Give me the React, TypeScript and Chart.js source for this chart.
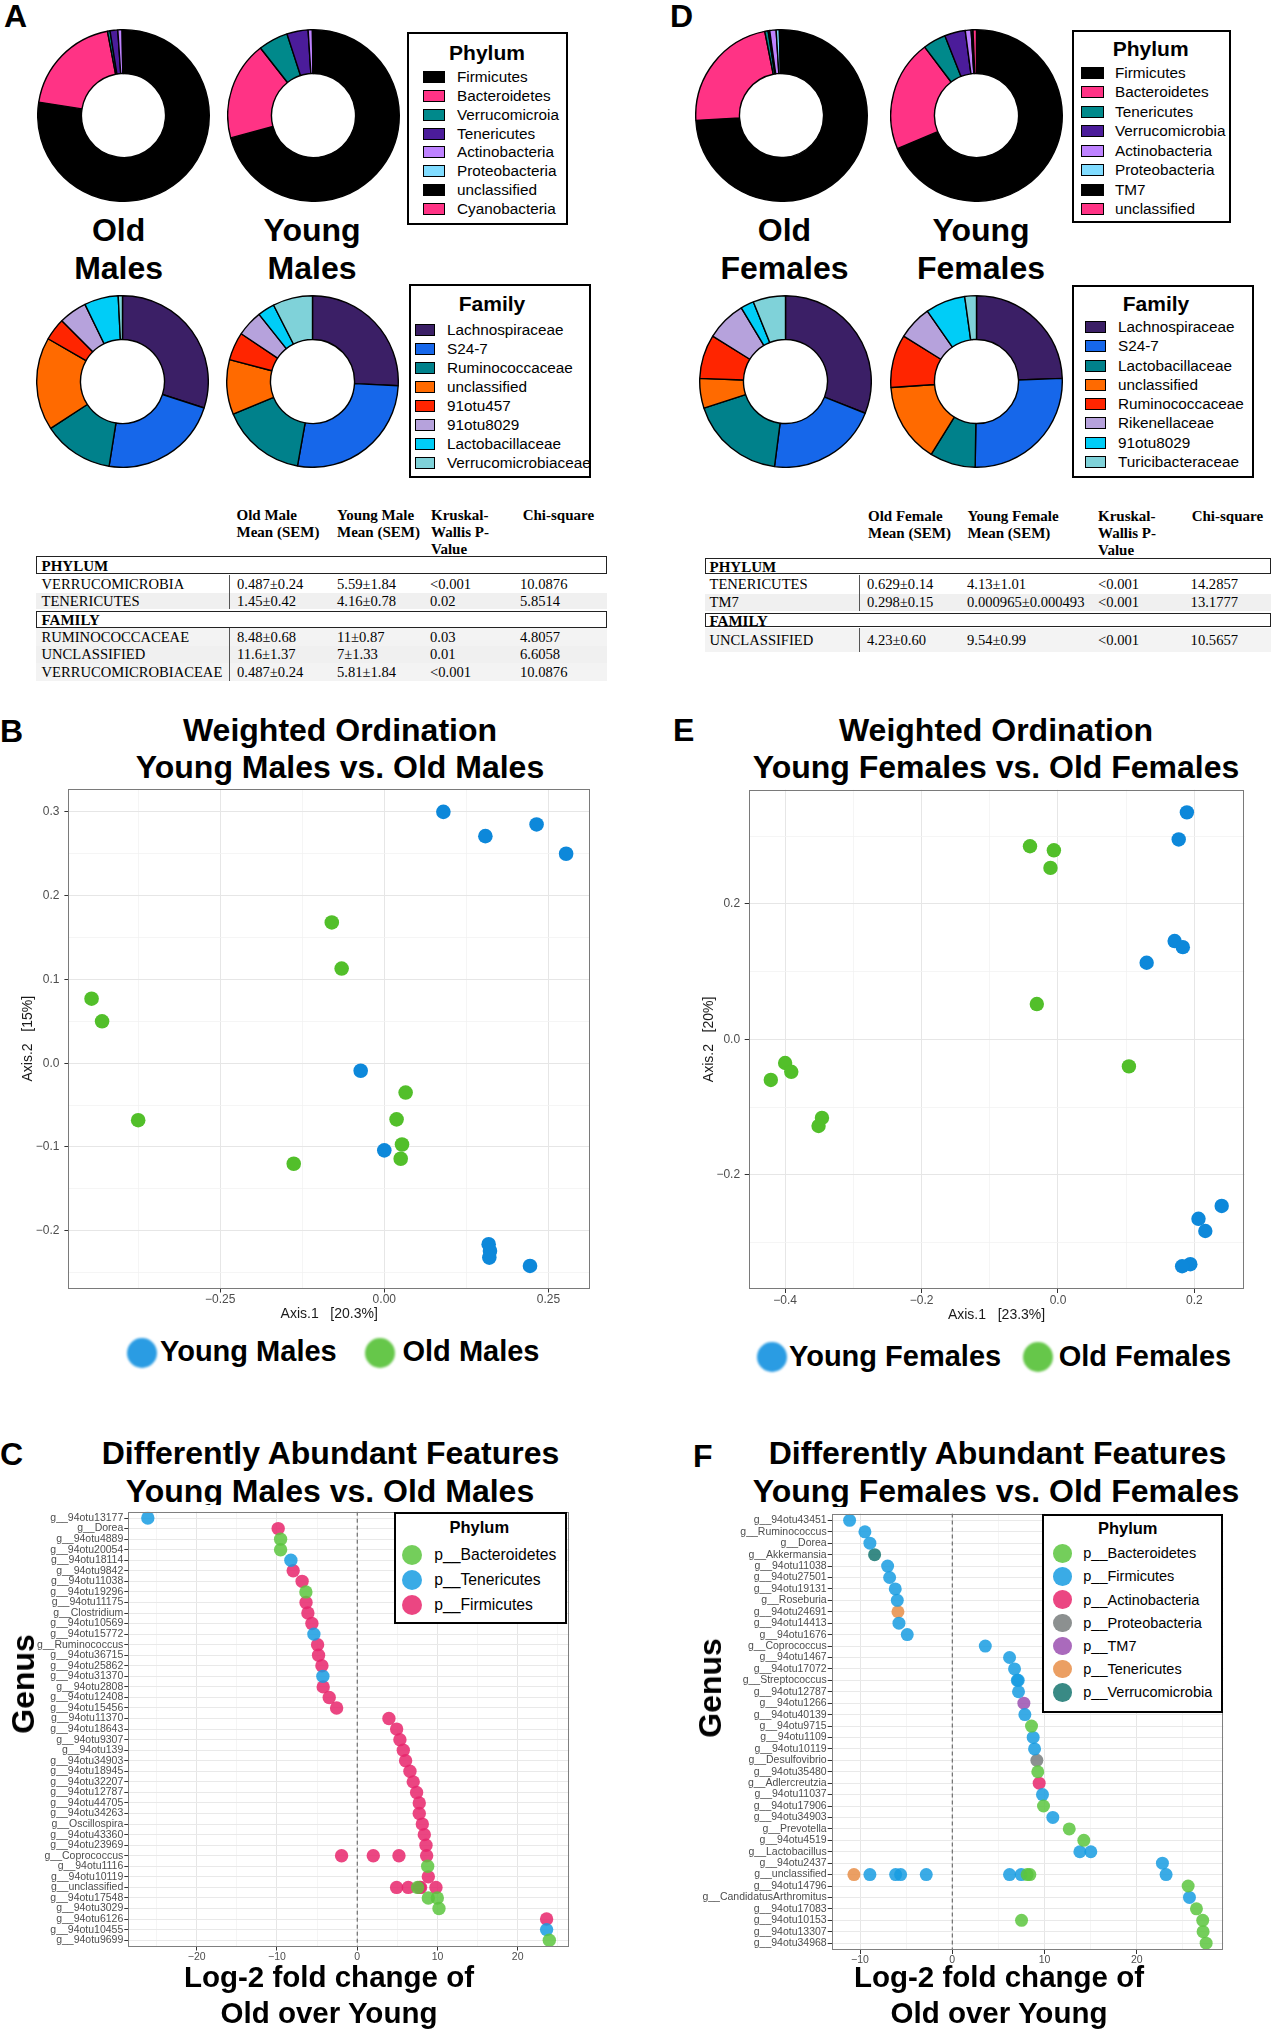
import React, { useEffect, useRef } from 'react';
import { Chart, registerables } from 'chart.js';

Chart.register(...registerables);

const SANS = '"Liberation Sans", Arial, Helvetica, sans-serif';
const SERIF = '"Liberation Serif", "Times New Roman", serif';

// ---------------- Panel A / D : composition donuts ----------------
const phylumA = ['Firmicutes', 'Bacteroidetes', 'Verrucomicroia', 'Tenericutes', 'Actinobacteria', 'Proteobacteria', 'unclassified', 'Cyanobacteria'];
const phylumOldMales = [77.5, 19.5, 0.49, 1.45, 0.8, 0.16, 0.05, 0.05];
const phylumYoungMales = [70.8, 18.6, 5.6, 4.0, 0.8, 0.1, 0.05, 0.05];
const familyA = ['Lachnospiraceae', 'S24-7', 'Ruminococcaceae', 'unclassified', '91otu457', '91otu8029', 'Lactobacillaceae', 'Verrucomicrobiaceae'];
const familyOldMales = [30.0, 22.5, 13.3, 17.5, 4.2, 5.3, 6.4, 0.8];
const familyYoungMales = [25.8, 27.0, 16.0, 10.3, 5.3, 4.9, 3.2, 7.5];

const phylumD = ['Firmicutes', 'Bacteroidetes', 'Tenericutes', 'Verrucomicrobia', 'Actinobacteria', 'Proteobacteria', 'TM7', 'unclassified'];
const phylumOldFemales = [74.2, 22.8, 0.63, 0.3, 1.2, 0.6, 0.3, 0.1];
const phylumYoungFemales = [68.7, 21.0, 4.3, 3.9, 1.1, 0.3, 0.05, 0.65];
const familyD = ['Lachnospiraceae', 'S24-7', 'Lactobacillaceae', 'unclassified', 'Ruminococcaceae', 'Rikenellaceae', '91otu8029', 'Turicibacteraceae'];
const familyOldFemales = [31.0, 21.0, 17.9, 5.6, 8.3, 7.5, 2.5, 6.1];
const familyYoungFemales = [24.4, 25.8, 8.6, 15.0, 10.0, 6.4, 7.5, 2.2];

const phylumColors = ['#000000', '#ff3385', '#00898b', '#4b1c9a', '#be82ff', '#80dcff', '#000000', '#ff3385'];
const familyColors = ['#3b1f66', '#1667ea', '#00818b', '#ff6a00', '#ff2500', '#b6a2dc', '#00cdf7', '#7fd2d9'];

// ---------------- Tables ----------------
const tableAHeaders = ['Old Male\nMean (SEM)', 'Young Male\nMean (SEM)', 'Kruskal-\nWallis P-\nValue', 'Chi-square'];
const tableAPhylum = [
  ['VERRUCOMICROBIA', '0.487\u00b10.24', '5.59\u00b11.84', '<0.001', '10.0876'],
  ['TENERICUTES', '1.45\u00b10.42', '4.16\u00b10.78', '0.02', '5.8514'],
];
const tableAFamily = [
  ['RUMINOCOCCACEAE', '8.48\u00b10.68', '11\u00b10.87', '0.03', '4.8057'],
  ['UNCLASSIFIED', '11.6\u00b11.37', '7\u00b11.33', '0.01', '6.6058'],
  ['VERRUCOMICROBIACEAE', '0.487\u00b10.24', '5.81\u00b11.84', '<0.001', '10.0876'],
];
const tableDHeaders = ['Old Female\nMean (SEM)', 'Young Female\nMean (SEM)', 'Kruskal-\nWallis P-\nValue', 'Chi-square'];
const tableDPhylum = [
  ['TENERICUTES', '0.629\u00b10.14', '4.13\u00b11.01', '<0.001', '14.2857'],
  ['TM7', '0.298\u00b10.15', '0.000965\u00b10.000493', '<0.001', '13.1777'],
];
const tableDFamily = [['UNCLASSIFIED', '4.23\u00b10.60', '9.54\u00b10.99', '<0.001', '10.5657']];

// ---------------- Panel B / E : ordination ----------------
const bYoungX = [0.090, 0.154, 0.232, 0.277, -0.036, 0.000, 0.159, 0.161, 0.160, 0.222];
const bYoungY = [0.300, 0.271, 0.285, 0.250, -0.009, -0.104, -0.216, -0.224, -0.232, -0.242];
const bOldX = [-0.080, -0.065, -0.446, -0.430, -0.375, -0.138, 0.0325, 0.0187, 0.027, 0.025];
const bOldY = [0.168, 0.113, 0.077, 0.050, -0.068, -0.120, -0.035, -0.067, -0.097, -0.114];
const bXMajor = [-0.25, 0, 0.25];
const bXMinor = [-0.375, -0.125, 0.125];
const bYMajor = [-0.2, -0.1, 0, 0.1, 0.2, 0.3];
const bYMinor = [-0.25, -0.15, -0.05, 0.05, 0.15, 0.25];

const eYoungX = [0.189, 0.177, 0.171, 0.183, 0.130, 0.240, 0.206, 0.216, 0.194, 0.182];
const eYoungY = [0.335, 0.295, 0.145, 0.136, 0.113, -0.246, -0.265, -0.283, -0.332, -0.335];
const eOldX = [-0.041, -0.006, -0.011, -0.031, 0.104, -0.421, -0.400, -0.391, -0.346, -0.351];
const eOldY = [0.285, 0.279, 0.253, 0.052, -0.040, -0.060, -0.035, -0.048, -0.116, -0.128];
const eXMajor = [-0.4, -0.2, 0, 0.2];
const eXMinor = [-0.3, -0.1, 0.1];
const eYMajor = [-0.2, 0, 0.2];
const eYMinor = [-0.3, -0.1, 0.1, 0.3];

// ---------------- Panel C : differential abundance (males) ----------------
const cGenus = ['g__94otu13177', 'g__Dorea', 'g__94otu4889', 'g__94otu20054', 'g__94otu18114', 'g__94otu9842', 'g__94otu11038', 'g__94otu19296', 'g__94otu11175', 'g__Clostridium', 'g__94otu10569', 'g__94otu15772', 'g__Ruminococcus', 'g__94otu36715', 'g__94otu25862', 'g__94otu31370', 'g__94otu2808', 'g__94otu12408', 'g__94otu15456', 'g__94otu11370', 'g__94otu18643', 'g__94otu9307', 'g__94otu139', 'g__94otu34903', 'g__94otu18945', 'g__94otu32207', 'g__94otu12787', 'g__94otu44705', 'g__94otu34263', 'g__Oscillospira', 'g__94otu43360', 'g__94otu23969', 'g__Coprococcus', 'g__94otu1116', 'g__94otu10119', 'g__unclassified', 'g__94otu17548', 'g__94otu3029', 'g__94otu6126', 'g__94otu10455', 'g__94otu9699'];
const cPhylumNames = ['p__Bacteroidetes', 'p__Tenericutes', 'p__Firmicutes'];
const cPhylumColors = ['rgba(92,198,62,0.85)', 'rgba(24,156,226,0.85)', 'rgba(232,38,108,0.85)'];
const cRow = [0, 1, 2, 3, 4, 5, 6, 7, 8, 9, 10, 11, 12, 13, 14, 15, 16, 17, 18, 19, 20, 21, 22, 23, 24, 25, 26, 27, 28, 29, 30, 31, 32, 32, 32, 32, 33, 34, 35, 35, 35, 35, 35, 35, 36, 36, 37, 38, 39, 40];
const cLfc = [-26.1, -9.85, -9.55, -9.55, -8.27, -7.98, -6.87, -6.4, -6.38, -6.15, -5.65, -5.4, -4.94, -4.82, -4.4, -4.28, -4.24, -3.49, -2.57, 3.95, 4.91, 5.32, 5.74, 6.03, 6.57, 6.98, 7.4, 7.73, 7.73, 8.11, 8.36, 8.57, -1.95, 2.0, 5.2, 8.65, 8.78, 8.86, 4.91, 6.36, 7.53, 7.75, 7.9, 9.81, 8.86, 9.98, 10.19, 23.6, 23.6, 23.94];
const cPhy = [1, 2, 0, 0, 1, 2, 2, 0, 2, 2, 2, 1, 2, 2, 2, 1, 2, 2, 2, 2, 2, 2, 2, 2, 2, 2, 2, 2, 2, 2, 2, 2, 2, 2, 2, 2, 0, 2, 2, 2, 0, 2, 2, 2, 0, 0, 0, 2, 1, 0];
const cXMajor = [-20, -10, 0, 10, 20];
const cXMinor = [-25, -15, -5, 5, 15, 25];

// ---------------- Panel F : differential abundance (females) ----------------
const fGenus = ['g__94otu43451', 'g__Ruminococcus', 'g__Dorea', 'g__Akkermansia', 'g__94otu11038', 'g__94otu27501', 'g__94otu19131', 'g__Roseburia', 'g__94otu24691', 'g__94otu14413', 'g__94otu1676', 'g__Coprococcus', 'g__94otu1467', 'g__94otu17072', 'g__Streptococcus', 'g__94otu12787', 'g__94otu1266', 'g__94otu40139', 'g__94otu9715', 'g__94otu1109', 'g__94otu10119', 'g__Desulfovibrio', 'g__94otu35480', 'g__Adlercreutzia', 'g__94otu11037', 'g__94otu17906', 'g__94otu34903', 'g__Prevotella', 'g__94otu4519', 'g__Lactobacillus', 'g__94otu2437', 'g__unclassified', 'g__94otu14796', 'g__CandidatusArthromitus', 'g__94otu17083', 'g__94otu10153', 'g__94otu13307', 'g__94otu34968'];
const fPhylumNames = ['p__Bacteroidetes', 'p__Firmicutes', 'p__Actinobacteria', 'p__Proteobacteria', 'p__TM7', 'p__Tenericutes', 'p__Verrucomicrobia'];
const fPhylumColors = ['rgba(92,198,62,0.85)', 'rgba(24,156,226,0.85)', 'rgba(232,38,108,0.85)', 'rgba(120,124,124,0.85)', 'rgba(155,80,176,0.85)', 'rgba(232,142,72,0.85)', 'rgba(22,118,112,0.85)'];
const fRow = [0, 1, 2, 3, 4, 5, 6, 7, 8, 9, 10, 11, 12, 13, 14, 14, 15, 16, 17, 18, 19, 20, 21, 22, 23, 24, 25, 26, 27, 28, 29, 29, 30, 31, 31, 31, 31, 31, 31, 31, 31, 31, 31, 32, 33, 34, 35, 35, 36, 37];
const fLfc = [-11.13, -9.47, -8.93, -8.42, -7.01, -6.79, -6.18, -5.96, -5.89, -5.78, -4.88, 3.58, 6.21, 6.75, 7.05, 7.15, 7.18, 7.76, 7.87, 8.59, 8.77, 8.92, 9.17, 9.27, 9.42, 9.78, 9.89, 10.9, 12.68, 14.26, 13.83, 15.02, 22.78, -10.66, -8.93, -6.14, -5.6, -2.82, 6.21, 7.47, 8.12, 8.41, 23.18, 25.57, 25.71, 26.47, 27.15, 7.51, 27.19, 27.52];
const fPhy = [1, 1, 1, 6, 1, 1, 1, 1, 5, 1, 1, 1, 1, 1, 1, 1, 1, 4, 1, 0, 1, 1, 3, 0, 2, 1, 0, 1, 0, 0, 1, 1, 1, 5, 1, 1, 1, 1, 1, 1, 0, 0, 1, 0, 1, 0, 0, 0, 0, 0];
const fXMajor = [-10, 0, 10, 20];
const fXMinor = [-5, 5, 15, 25];

// ---------------- helpers ----------------
const near = (a: number, b: number) => Math.abs(a - b) < 1e-9;
const fmt = (d: number) => (v: number) => v.toFixed(d).replace('-', '\u2212');

function T(p: any) {
  const tx = p.a === 'center' ? '-50%' : p.a === 'right' ? '-100%' : '0';
  return (
    <div
      style={{
        position: 'absolute', left: p.x, top: p.y,
        transform: `translate(${tx},-50%)${p.r ? ` rotate(${p.r}deg)` : ''}`,
        fontSize: p.s, fontWeight: p.b ? 'bold' : 'normal', fontFamily: p.ff || SANS,
        color: p.c || '#000', whiteSpace: 'pre', lineHeight: p.lh || 1,
        textAlign: p.a === 'center' ? 'center' : 'left',
      }}
    >
      {p.children}
    </div>
  );
}

function ChartBox({ box, make, bg }: any) {
  const ref = useRef<HTMLCanvasElement | null>(null);
  useEffect(() => {
    if (!ref.current) return;
    const chart = new Chart(ref.current, make());
    return () => chart.destroy();
  }, []);
  return (
    <div style={{ position: 'absolute', left: box.left, top: box.top, width: box.width, height: box.height, background: bg }}>
      <canvas ref={ref} />
    </div>
  );
}

const framePlugin = (color: string) => ({
  id: 'panelFrame',
  afterDatasetsDraw(chart: any) {
    const { ctx, chartArea: a } = chart;
    ctx.save();
    ctx.strokeStyle = color;
    ctx.lineWidth = 1;
    const l = Math.round(a.left) + 0.5, t = Math.round(a.top) + 0.5;
    const r = Math.round(a.right) - 0.5, b = Math.round(a.bottom) - 0.5;
    ctx.strokeRect(l, t, r - l, b - t);
    ctx.restore();
  },
});

function linAxis(o: any) {
  const isMajor = (v: number) => o.major.some((m: number) => near(m, v));
  return {
    type: 'linear', min: o.min, max: o.max, reverse: !!o.reverse, bounds: 'data',
    afterBuildTicks: (s: any) => {
      s.ticks = [...o.major, ...(o.minor || [])].sort((a: number, b: number) => a - b).map((v: number) => ({ value: v }));
    },
    afterFit: (s: any) => {
      if (o.horizontal) s.height = o.fit; else s.width = o.fit;
      s.paddingTop = 0; s.paddingBottom = 0; s.paddingLeft = 0; s.paddingRight = 0;
    },
    ticks: {
      autoSkip: false, maxRotation: 0, minRotation: 0, padding: o.pad, color: '#4d4d4d',
      font: { family: SANS, size: o.size, lineHeight: 1.2 },
      callback: (v: number) => (isMajor(v) ? o.fmt(v) : ''),
    },
    grid: {
      drawTicks: true, tickLength: 4, tickWidth: 1,
      color: (c: any) => (c.tick && isMajor(c.tick.value) ? o.majorColor : o.minorColor),
      lineWidth: (c: any) => (c.tick && isMajor(c.tick.value) ? 1 : 0.8),
      tickColor: (c: any) => (c.tick && isMajor(c.tick.value) ? '#333' : 'rgba(0,0,0,0)'),
    },
    border: { display: false },
    title: o.title
      ? { display: true, text: o.title, color: '#1a1a1a', font: { family: SANS, size: 14, lineHeight: 1.2 }, padding: o.titlePad }
      : { display: false },
  };
}

function donutCfg(labels: string[], values: number[], colors: string[]) {
  return {
    type: 'doughnut',
    data: { labels, datasets: [{ data: values, backgroundColor: colors, borderColor: '#000', borderWidth: 1.4 }] },
    options: {
      animation: false, responsive: true, maintainAspectRatio: false, cutout: '49%', events: [],
      layout: { padding: 0 },
      plugins: { legend: { display: false }, tooltip: { enabled: false } },
    },
  };
}

function scatterCfg(p: any) {
  return {
    type: 'scatter',
    data: {
      datasets: p.sets.map((s: any) => ({
        label: s.label,
        data: s.xs.map((x: number, i: number) => ({ x, y: s.ys[i] })),
        backgroundColor: s.color, borderWidth: 0, pointRadius: p.r, pointHoverRadius: p.r,
      })),
    },
    options: {
      animation: false, responsive: true, maintainAspectRatio: false, events: [],
      layout: { padding: p.pad },
      plugins: { legend: { display: false }, tooltip: { enabled: false } },
      scales: { x: linAxis(p.x), y: linAxis(p.y) },
    },
    plugins: [framePlugin('#7a7a7a')],
  };
}

function dotCfg(p: any) {
  const n = p.genus.length;
  const sets: any[] = p.names.map((name: string, k: number) => ({
    label: name,
    data: p.lfc.map((x: number, i: number) => ({ x, y: p.row[i], k: p.phy[i] })).filter((d: any) => d.k === k),
    backgroundColor: p.colors[k], borderWidth: 0, pointRadius: p.r, pointHoverRadius: p.r, order: 1,
  }));
  sets.push({
    label: 'zero', data: [{ x: 0, y: -0.6 }, { x: 0, y: n - 0.4 }], showLine: true,
    borderColor: '#555', borderWidth: 1, borderDash: [4, 3], pointRadius: 0, order: 10,
  });
  return {
    type: 'scatter',
    data: { datasets: sets },
    options: {
      animation: false, responsive: true, maintainAspectRatio: false, events: [],
      layout: { padding: p.pad },
      plugins: { legend: { display: false }, tooltip: { enabled: false } },
      scales: {
        x: linAxis({ ...p.x, horizontal: true, size: 10.5, pad: 0, fmt: fmt(0), majorColor: '#e6e6e6', minorColor: '#f2f2f2' }),
        y: linAxis({
          min: -0.6, max: n - 0.4, reverse: true, major: p.genus.map((_: string, i: number) => i), minor: [],
          fit: p.yFit, size: 10.5, pad: 1, fmt: (v: number) => p.genus[Math.round(v)] || '',
          majorColor: '#e9e9e9', minorColor: '#f2f2f2',
        }),
      },
    },
    plugins: [framePlugin('#7f7f7f')],
  };
}

function Donut({ cx, cy, labels, values, colors }: any) {
  const S = 173;
  return <ChartBox box={{ left: cx - S / 2, top: cy - S / 2, width: S, height: S }} make={() => donutCfg(labels, values, colors)} />;
}

function SwatchLegend({ g, title, labels, colors }: any) {
  return (
    <>
      <div style={{ position: 'absolute', left: g.left, top: g.top, width: g.w, height: g.h, border: '2px solid #000', boxSizing: 'border-box', background: '#fff' }} />
      <T x={g.tx} y={g.ty} s={21} b a="center">{title}</T>
      {labels.map((l: string, i: number) => (
        <React.Fragment key={l + i}>
          <div style={{ position: 'absolute', left: g.sx, top: g.y0 + i * g.step - 6, width: g.sw, height: 12, background: colors[i], border: '1.5px solid #000', boxSizing: 'border-box' }} />
          <T x={g.lx} y={g.y0 + i * g.step} s={15.3}>{l}</T>
        </React.Fragment>
      ))}
    </>
  );
}

function DotLegend({ g, names, colors }: any) {
  return (
    <>
      <div style={{ position: 'absolute', left: g.left, top: g.top, width: g.w, height: g.h, border: '2px solid #000', boxSizing: 'border-box', background: '#fff' }} />
      <T x={g.tx} y={g.ty} s={16.5} b a="center">Phylum</T>
      {names.map((nm: string, i: number) => (
        <React.Fragment key={nm}>
          <div style={{ position: 'absolute', left: g.cx - g.r, top: g.y0 + i * g.step - g.r, width: g.r * 2, height: g.r * 2, borderRadius: '50%', background: colors[i] }} />
          <T x={g.lx} y={g.y0 + i * g.step} s={g.fs}>{nm}</T>
        </React.Fragment>
      ))}
    </>
  );
}

function DataTable({ t, headers, phylum, family }: any) {
  const els: any[] = [];
  headers.forEach((h: string, i: number) =>
    els.push(
      <div key={'h' + i} style={{ position: 'absolute', left: t.headerX[i], top: t.headerTop, fontFamily: SERIF, fontWeight: 'bold', fontSize: 15, lineHeight: '17px', whiteSpace: 'pre' }}>{h}</div>
    )
  );
  const section = (name: string, box: number[], rows: string[][], rects: number[][], bgs: string[], key: string) => {
    rows.forEach((r, i) => {
      const [y0, y1] = rects[i];
      els.push(<div key={key + 'bg' + i} style={{ position: 'absolute', left: t.left, top: y0, width: t.right - t.left, height: y1 - y0, background: bgs[i] }} />);
      els.push(<div key={key + 'sep' + i} style={{ position: 'absolute', left: t.sepX, top: y0, width: 1, height: y1 - y0, background: '#555' }} />);
      els.push(<T key={key + 'l' + i} x={t.labelX} y={(y0 + y1) / 2} s={14.6} ff={SERIF}>{r[0]}</T>);
      for (let c = 1; c < 5; c++) els.push(<T key={key + 'c' + i + '_' + c} x={t.colX[c - 1]} y={(y0 + y1) / 2} s={14.6} ff={SERIF}>{r[c]}</T>);
    });
    els.push(<div key={key + 'box'} style={{ position: 'absolute', left: t.left, top: box[0], width: t.right - t.left, height: box[1] - box[0], border: '1.5px solid #222', boxSizing: 'border-box', background: '#fff' }} />);
    els.push(<T key={key + 'name'} x={t.labelX} y={(box[0] + box[1]) / 2 + 0.5} s={15} b ff={SERIF}>{name}</T>);
  };
  section('PHYLUM', t.phylumBox, phylum, t.phylumRows, t.phylumBg, 'p');
  section('FAMILY', t.familyBox, family, t.familyRows, t.familyBg, 'f');
  return <>{els}</>;
}

const BLUE = '#0d88da';
const GREEN = '#52bf2a';

export default function App() {
  return (
    <div style={{ position: 'absolute', left: 0, top: 0, width: 1273, height: 2029, overflow: 'hidden', background: '#fff', fontFamily: SANS }}>
      {/* panel letters */}
      <T x={4} y={16} s={32} b>A</T>
      <T x={670} y={16} s={32} b>D</T>
      <T x={0} y={731} s={32} b>B</T>
      <T x={673} y={730} s={32} b>E</T>
      <T x={0} y={1454} s={32} b>C</T>
      <T x={693} y={1456} s={32} b>F</T>

      {/* ---------- Panel A ---------- */}
      <Donut cx={123} cy={115} labels={phylumA} values={phylumOldMales} colors={phylumColors} />
      <Donut cx={313.4} cy={115} labels={phylumA} values={phylumYoungMales} colors={phylumColors} />
      <Donut cx={122.6} cy={381.7} labels={familyA} values={familyOldMales} colors={familyColors} />
      <Donut cx={312} cy={381.7} labels={familyA} values={familyYoungMales} colors={familyColors} />
      <T x={118.6} y={230} s={32} b a="center">Old</T>
      <T x={118.6} y={268} s={32} b a="center">Males</T>
      <T x={312} y={230} s={32} b a="center">Young</T>
      <T x={312} y={268} s={32} b a="center">Males</T>
      <SwatchLegend g={{ left: 407, top: 32, w: 161, h: 193, tx: 487, ty: 52, sx: 423, sw: 22, lx: 457, y0: 77, step: 18.86 }} title="Phylum" labels={phylumA} colors={phylumColors} />
      <SwatchLegend g={{ left: 408.5, top: 284, w: 182.5, h: 194, tx: 492, ty: 303, sx: 415, sw: 20, lx: 447, y0: 330, step: 19 }} title="Family" labels={familyA} colors={familyColors} />

      {/* ---------- Panel D ---------- */}
      <Donut cx={781} cy={115} labels={phylumD} values={phylumOldFemales} colors={phylumColors} />
      <Donut cx={976} cy={115} labels={phylumD} values={phylumYoungFemales} colors={phylumColors} />
      <Donut cx={785} cy={381} labels={familyD} values={familyOldFemales} colors={familyColors} />
      <Donut cx={976.5} cy={381} labels={familyD} values={familyYoungFemales} colors={familyColors} />
      <T x={784.5} y={230} s={32} b a="center">Old</T>
      <T x={784.5} y={268} s={32} b a="center">Females</T>
      <T x={981} y={230} s={32} b a="center">Young</T>
      <T x={981} y={268} s={32} b a="center">Females</T>
      <SwatchLegend g={{ left: 1072, top: 30, w: 159, h: 193, tx: 1150.7, ty: 48, sx: 1081, sw: 22.5, lx: 1115, y0: 73, step: 19.43 }} title="Phylum" labels={phylumD} colors={phylumColors} />
      <SwatchLegend g={{ left: 1072, top: 285, w: 182, h: 193, tx: 1156, ty: 303, sx: 1085, sw: 21, lx: 1118, y0: 327, step: 19.29 }} title="Family" labels={familyD} colors={familyColors} />

      {/* ---------- Tables ---------- */}
      <DataTable
        t={{
          left: 35.6, right: 607, labelX: 41.5, sepX: 229, headerX: [236.5, 337, 431, 522.7], headerTop: 506.5,
          colX: [237, 337, 430, 520], phylumBox: [556, 574.3], phylumRows: [[575, 592.5], [592.5, 609]],
          familyBox: [610.7, 627.7], familyRows: [[628, 645.5], [645.5, 663], [663, 681]],
          phylumBg: ['#ffffff', '#f0f0f0'], familyBg: ['#f3f3f3', '#f0f0f0', '#f3f3f3'],
        }}
        headers={tableAHeaders} phylum={tableAPhylum} family={tableAFamily}
      />
      <DataTable
        t={{
          left: 704.6, right: 1271, labelX: 709.5, sepX: 858.5, headerX: [868, 967.4, 1098, 1191.7], headerTop: 507.5,
          colX: [867, 967, 1098, 1190.6], phylumBox: [557.7, 574.3], phylumRows: [[575, 593.5], [593.5, 611]],
          familyBox: [612.7, 627.3], familyRows: [[628, 652]],
          phylumBg: ['#ffffff', '#f0f0f0'], familyBg: ['#f3f3f3'],
        }}
        headers={tableDHeaders} phylum={tableDPhylum} family={tableDFamily}
      />

      {/* ---------- Panel B ---------- */}
      <T x={340} y={729.5} s={32} b a="center">Weighted Ordination</T>
      <T x={340} y={767} s={32} b a="center">Young Males vs. Old Males</T>
      <ChartBox
        box={{ left: 0, top: 780, width: 600, height: 545 }}
        make={() =>
          scatterCfg({
            r: 7.3,
            pad: { top: 9, right: 10, left: 0, bottom: 0 },
            sets: [
              { label: 'Young Males', xs: bYoungX, ys: bYoungY, color: BLUE },
              { label: 'Old Males', xs: bOldX, ys: bOldY, color: GREEN },
            ],
            x: { min: -0.4813, max: 0.3134, major: bXMajor, minor: bXMinor, horizontal: true, fit: 36.5, size: 12, pad: 0, fmt: fmt(2), majorColor: '#e6e6e6', minorColor: '#f3f3f3', title: 'Axis.1   [20.3%]', titlePad: { top: 0, bottom: 2.1 } },
            y: { min: -0.2689, max: 0.3273, major: bYMajor, minor: bYMinor, fit: 68.4, size: 12, pad: 5, fmt: fmt(1), majorColor: '#e6e6e6', minorColor: '#f3f3f3', title: 'Axis.2   [15%]', titlePad: { top: 20.1, bottom: 0 } },
          })
        }
      />
      <div style={{ position: 'absolute', left: 127, top: 1338, width: 30, height: 30, borderRadius: '50%', background: '#2a9ce3', filter: 'blur(1.2px)' }} />
      <T x={160} y={1351} s={29} b>Young Males</T>
      <div style={{ position: 'absolute', left: 365.4, top: 1338, width: 30, height: 30, borderRadius: '50%', background: '#66c74a', filter: 'blur(1.2px)' }} />
      <T x={402.5} y={1351} s={29} b>Old Males</T>

      {/* ---------- Panel E ---------- */}
      <T x={996} y={729.5} s={32} b a="center">Weighted Ordination</T>
      <T x={996} y={767} s={32} b a="center">Young Females vs. Old Females</T>
      <ChartBox
        box={{ left: 690, top: 780, width: 565, height: 545 }}
        make={() =>
          scatterCfg({
            r: 7.2,
            pad: { top: 9.8, right: 10.6, left: 0, bottom: 0 },
            sets: [
              { label: 'Young Females', xs: eYoungX, ys: eYoungY, color: BLUE },
              { label: 'Old Females', xs: eOldX, ys: eOldY, color: GREEN },
            ],
            x: { min: -0.4534, max: 0.2733, major: eXMajor, minor: eXMinor, horizontal: true, fit: 36, size: 12, pad: 0, fmt: fmt(1), majorColor: '#e6e6e6', minorColor: '#f3f3f3', title: 'Axis.1   [23.3%]', titlePad: { top: 0, bottom: 1.6 } },
            y: { min: -0.3686, max: 0.3683, major: eYMajor, minor: eYMinor, fit: 58.7, size: 12, pad: 4.6, fmt: fmt(1), majorColor: '#e6e6e6', minorColor: '#f3f3f3', title: 'Axis.2   [20%]', titlePad: { top: 10.6, bottom: 0 } },
          })
        }
      />
      <div style={{ position: 'absolute', left: 757, top: 1342, width: 30, height: 30, borderRadius: '50%', background: '#2a9ce3', filter: 'blur(1.2px)' }} />
      <T x={789} y={1355.7} s={29} b>Young Females</T>
      <div style={{ position: 'absolute', left: 1023, top: 1342, width: 30, height: 30, borderRadius: '50%', background: '#66c74a', filter: 'blur(1.2px)' }} />
      <T x={1058.7} y={1355.7} s={29} b>Old Females</T>

      {/* ---------- Panel C ---------- */}
      <T x={330.5} y={1453} s={32} b a="center">Differently Abundant Features</T>
      <T x={330} y={1490.7} s={32} b a="center">Young Males vs. Old Males</T>
      <ChartBox
        box={{ left: 0, top: 1505, width: 580, height: 467 }}
        bg="#fff"
        make={() =>
          dotCfg({
            genus: cGenus, names: cPhylumNames, colors: cPhylumColors, row: cRow, lfc: cLfc, phy: cPhy, r: 6.7,
            pad: { top: 5, right: 10.7, left: 0, bottom: 0 }, yFit: 128.3,
            x: { min: -28.53, max: 26.43, major: cXMajor, minor: cXMinor, fit: 25.5 },
          })
        }
      />
      <DotLegend g={{ left: 394.3, top: 1512.3, w: 173, h: 111.7, tx: 479.3, ty: 1526.7, cx: 412, r: 10, lx: 434.3, y0: 1555, step: 25.2, fs: 15.7 }} names={cPhylumNames} colors={cPhylumColors} />
      <T x={23} y={1684} s={32} b a="center" r={-90}>Genus</T>
      <T x={329} y={1977} s={29.5} b a="center">Log-2 fold change of</T>
      <T x={329} y={2013} s={29.5} b a="center">Old over Young</T>

      {/* ---------- Panel F ---------- */}
      <T x={997.5} y={1453} s={32} b a="center">Differently Abundant Features</T>
      <T x={996} y={1490.7} s={32} b a="center">Young Females vs. Old Females</T>
      <ChartBox
        box={{ left: 700, top: 1507, width: 533.3, height: 465 }}
        bg="#fff"
        make={() =>
          dotCfg({
            genus: fGenus, names: fPhylumNames, colors: fPhylumColors, row: fRow, lfc: fLfc, phy: fPhy, r: 6.5,
            pad: { top: 6.3, right: 10, left: 0, bottom: 0 }, yFit: 131.7,
            x: { min: -13.07, max: 29.38, major: fXMajor, minor: fXMinor, fit: 22 },
          })
        }
      />
      <DotLegend g={{ left: 1042.3, top: 1514.3, w: 181, h: 198.4, tx: 1127.7, ty: 1528.3, cx: 1062.3, r: 9.3, lx: 1083.3, y0: 1553.3, step: 23.17, fs: 14.5 }} names={fPhylumNames} colors={fPhylumColors} />
      <T x={710} y={1688} s={32} b a="center" r={-90}>Genus</T>
      <T x={999} y={1977} s={29.5} b a="center">Log-2 fold change of</T>
      <T x={999} y={2013} s={29.5} b a="center">Old over Young</T>
    </div>
  );
}
